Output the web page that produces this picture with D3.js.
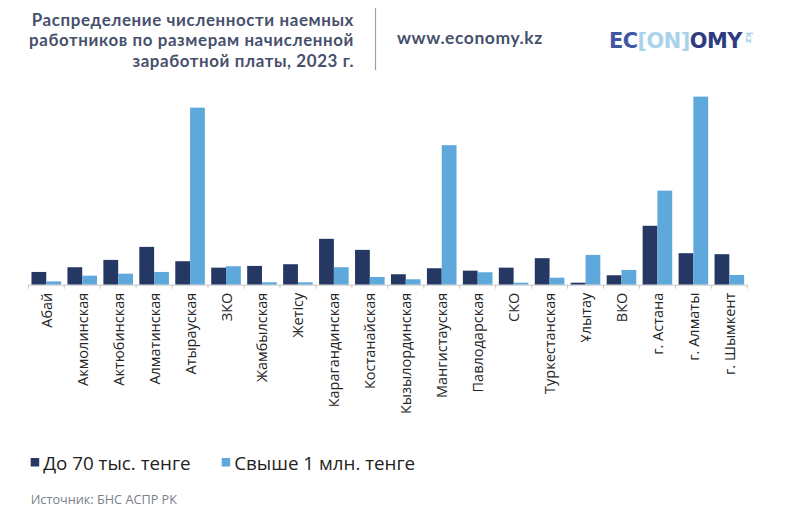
<!DOCTYPE html>
<html>
<head>
<meta charset="utf-8">
<script src="https://cdn.jsdelivr.net/npm/d3@7"></script>
<style>
  body { margin: 0; background: #fff; }
  svg { display: block; font-family: "Open Sans", sans-serif; }
</style>
</head>
<body>
<svg id="chart" width="800" height="515"></svg>
<script>
// regions (x axis)
var regions = ['Абай', 'Акмолинская', 'Актюбинская', 'Алматинская', 'Атырауская', 'ЗКО',
  'Жамбылская', 'Жетісу', 'Карагандинская', 'Костанайская', 'Кызылординская',
  'Мангистауская', 'Павлодарская', 'СКО', 'Туркестанская', 'Ұлытау', 'ВКО',
  'г. Астана', 'г. Алматы', 'г. Шымкент'];

// values (relative units)
var upTo70k = [12.7, 17.4, 24.7, 37.7, 23.4, 17.0, 18.7, 20.4, 45.7, 34.7, 10.4,
  16.4, 14.0, 17.0, 26.4, 2.0, 9.4, 58.7, 31.4, 30.4];
var over1m = [3.3, 9.0, 11.0, 12.7, 176.4, 18.4, 2.4, 2.4, 17.4, 7.7, 5.4,
  139.0, 12.4, 2.0, 7.0, 29.7, 14.7, 93.7, 187.4, 9.7];

var seriesNames = ['До 70 тыс. тенге', 'Свыше 1 млн. тенге'];
var colors = ['#253863', '#5fa8dc'];
var titleLines = ['Распределение численности наемных', 'работников по размерам начисленной', 'заработной платы, 2023 г.'];

var svg = d3.select('#chart');
var titleColor = '#46506c';

// header, one text per line so the boxes stay apart
svg.selectAll('text.title')
    .data(titleLines)
  .enter().append('text')
    .attr('class', 'title')
    .attr('x', 354)
    .attr('y', function (d, i) { return 26 + i * 20.3; })
    .attr('text-anchor', 'end')
    .attr('font-family', 'Lato, sans-serif')
    .attr('font-weight', 700)
    .attr('font-size', 16.9)
    .attr('letter-spacing', 0.6)
    .attr('fill', titleColor)
    .text(function (d) { return d; });

svg.append('line')
    .attr('x1', 375.5).attr('x2', 375.5)
    .attr('y1', 8).attr('y2', 70)
    .attr('stroke', '#9aa0ab').attr('stroke-width', 1.2);

svg.append('text')
    .attr('x', 397).attr('y', 44)
    .attr('font-family', 'Lato, sans-serif')
    .attr('font-weight', 700).attr('font-size', 17.5)
    .attr('letter-spacing', 0.55)
    .attr('fill', titleColor)
    .text('www.economy.kz');

// logo
var logo = svg.append('text')
    .attr('x', 609).attr('y', 48)
    .attr('font-family', '"DejaVu Sans", sans-serif')
    .attr('font-weight', 700).attr('font-size', 21)
    .attr('letter-spacing', -0.5)
    .attr('textLength', 133).attr('lengthAdjust', 'spacingAndGlyphs');
logo.append('tspan').attr('fill', '#3f57a3').text('EC');
logo.append('tspan').attr('fill', '#a8d3ea').text('[ON]');
logo.append('tspan').attr('fill', '#2f3b80').text('OMY');
svg.append('text')
    .attr('transform', 'translate(746,32) rotate(90)')
    .attr('font-family', '"DejaVu Sans", sans-serif')
    .attr('font-weight', 700).attr('font-size', 9)
    .attr('fill', '#a8d3ea')
    .text('kz');

// chart
var margin = { left: 28.3, right: 52.7, top: 94, bottom: 230.3 };
var width = 800 - margin.left - margin.right;
var baseY = 515 - margin.bottom;

var x = d3.scaleBand().domain(regions).range([margin.left, margin.left + width]).paddingInner(0).paddingOuter(0);
var x1 = d3.scaleBand().domain([0, 1]).range([0, x.bandwidth()]).paddingInner(0).paddingOuter(0.215);
var y = d3.scaleLinear().domain([0, 190]).range([baseY, margin.top]);

var g = svg.append('g');
var groups = g.selectAll('g.grp')
    .data(regions)
  .enter().append('g')
    .attr('class', 'grp')
    .attr('transform', function (d) { return 'translate(' + x(d) + ',0)'; });

groups.selectAll('rect')
    .data(function (d, i) { return [upTo70k[i], over1m[i]]; })
  .enter().append('rect')
    .attr('x', function (d, j) { return x1(j); })
    .attr('width', x1.bandwidth())
    .attr('y', function (d) { return y(d); })
    .attr('height', function (d) { return baseY - y(d); })
    .attr('fill', function (d, j) { return colors[j]; });

// axis line + ticks at band boundaries
var axis = svg.append('g');
axis.append('line')
    .attr('x1', margin.left).attr('x2', margin.left + width)
    .attr('y1', baseY + 0.5).attr('y2', baseY + 0.5)
    .attr('stroke', '#c8c8c8').attr('stroke-width', 1);
axis.selectAll('line.tick')
    .data(regions.concat(['end']))
  .enter().append('line')
    .attr('class', 'tick')
    .attr('x1', function (d, i) { return margin.left + i * x.bandwidth(); })
    .attr('x2', function (d, i) { return margin.left + i * x.bandwidth(); })
    .attr('y1', baseY).attr('y2', baseY + 4)
    .attr('stroke', '#c8c8c8');

axis.selectAll('text.lbl')
    .data(regions)
  .enter().append('text')
    .attr('class', 'lbl')
    .attr('transform', function (d) {
      return 'translate(' + (x(d) + x.bandwidth() / 2 + 5.5) + ',' + (baseY + 8) + ') rotate(-90)';
    })
    .attr('text-anchor', 'end')
    .attr('font-size', 14.5)
    .attr('fill', '#262626')
    .text(function (d) { return d; });

// legend
var legend = svg.append('g');
var legendX = [30.7, 221.7];
seriesNames.forEach(function (name, i) {
  legend.append('rect')
      .attr('x', legendX[i]).attr('y', 458)
      .attr('width', 8.5).attr('height', 8.5)
      .attr('fill', colors[i]);
  legend.append('text')
      .attr('x', legendX[i] + 12.5).attr('y', 469.5)
      .attr('font-size', 18.8)
      .attr('fill', '#222')
      .text(name);
});

svg.append('text')
    .attr('x', 30.7).attr('y', 504)
    .attr('font-size', 12.7)
    .attr('fill', '#7a7f88')
    .text('Источник: БНС АСПР РК');
</script>
</body>
</html>
